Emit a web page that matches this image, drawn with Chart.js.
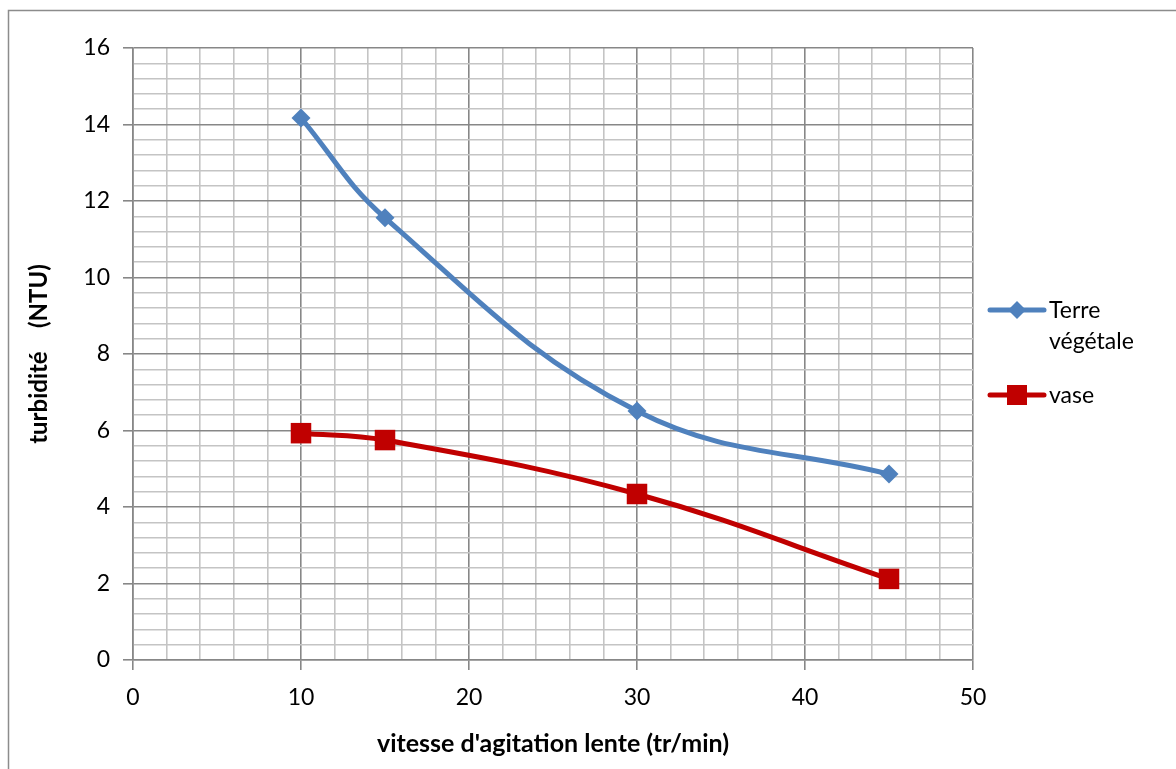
<!DOCTYPE html>
<html>
<head>
<meta charset="utf-8">
<script src="https://cdn.jsdelivr.net/npm/chart.js@4.4.1/dist/chart.umd.min.js"></script>
<style>
  html, body { margin: 0; padding: 0; background: #fff; }
  #wrap { position: relative; width: 1176px; height: 769px; }
</style>
</head>
<body>
<div id="wrap"><canvas id="turbChart"></canvas></div>
<script>
// Vitesse d'agitation lente (tr/min)
const vitesses = [10, 15, 30, 45];
// Turbidité (NTU)
const terreVegetale = [14.17, 11.56, 6.51, 4.86];
const vase = [5.93, 5.75, 4.34, 2.12];
const seriesNames = ['Terre végétale', 'vase'];

const FONT = "Lato, 'Open Sans', sans-serif";
const MAJOR = '#878787';
const MINOR = '#c4c4c4';

const isMult = (v, m) => Math.abs(v / m - Math.round(v / m)) < 1e-6;

// outer frame of the chart object
const framePlugin = {
    id: 'frame',
    beforeDraw(chart) {
        const ctx = chart.ctx;
        ctx.save();
        ctx.fillStyle = '#fff';
        ctx.fillRect(0, 0, chart.width, chart.height);
        ctx.strokeStyle = '#8c8c8c';
        ctx.lineWidth = 1.5;
        ctx.strokeRect(8.5, 10.5, chart.width, chart.height);
        ctx.restore();
    }
};

// legend on the right, with wrapped labels
const legendPlugin = {
    id: 'sideLegend',
    afterDraw(chart) {
        const ctx = chart.ctx;
        const rows = [
            { y: 310, lines: ['Terre', 'végétale'] },
            { y: 395, lines: ['vase'] }
        ];
        ctx.save();
        chart.data.datasets.forEach((ds, i) => {
            const r = rows[i];
            ctx.strokeStyle = ds.borderColor;
            ctx.lineWidth = ds.borderWidth;
            ctx.lineCap = 'round';
            ctx.beginPath();
            ctx.moveTo(990, r.y);
            ctx.lineTo(1044, r.y);
            ctx.stroke();
            ctx.fillStyle = ds.pointBackgroundColor;
            ctx.beginPath();
            if (ds.pointStyle === 'rectRot') {
                ctx.moveTo(1017, r.y - 9);
                ctx.lineTo(1026, r.y);
                ctx.lineTo(1017, r.y + 9);
                ctx.lineTo(1008, r.y);
                ctx.closePath();
            } else {
                ctx.rect(1007, r.y - 10, 20, 20);
            }
            ctx.fill();
            ctx.fillStyle = '#000';
            ctx.font = '23px ' + FONT;
            ctx.textBaseline = 'middle';
            ctx.textAlign = 'left';
            r.lines.forEach((t, k) => ctx.fillText(t, 1049, r.y + 1 + k * 31));
        });
        ctx.restore();
    }
};

new Chart(document.getElementById('turbChart'), {
    type: 'line',
    data: {
        datasets: [
            {
                label: seriesNames[0],
                data: vitesses.map((x, i) => ({ x, y: terreVegetale[i] })),
                borderColor: '#4f81bd',
                pointBackgroundColor: '#4f81bd',
                pointBorderColor: '#4f81bd',
                borderWidth: 5,
                pointStyle: 'rectRot',
                pointRadius: 9.5,
                pointBorderWidth: 0,
                tension: 0.4
            },
            {
                label: seriesNames[1],
                data: vitesses.map((x, i) => ({ x, y: vase[i] })),
                borderColor: '#c00000',
                pointBackgroundColor: '#c00000',
                pointBorderColor: '#c00000',
                borderWidth: 5,
                pointStyle: 'rect',
                pointRadius: 14.5,
                pointBorderWidth: 0,
                tension: 0.4
            }
        ]
    },
    options: {
        responsive: true,
        maintainAspectRatio: false,
        animation: false,
        layout: { padding: { left: 25, top: 48, right: 203, bottom: 10 } },
        plugins: {
            legend: { display: false },
            tooltip: { enabled: false }
        },
        scales: {
            x: {
                type: 'linear',
                min: 0,
                max: 50,
                afterFit: (s) => { s.height = 99; },
                border: { color: MAJOR, width: 1.6 },
                grid: {
                    color: (c) => isMult(c.tick.value, 10) ? MAJOR : MINOR,
                    lineWidth: 1.6,
                    tickLength: 10,
                    tickColor: (c) => isMult(c.tick.value, 10) ? MAJOR : 'rgba(0,0,0,0)'
                },
                ticks: {
                    stepSize: 2,
                    autoSkip: false,
                    maxRotation: 0,
                    color: '#000',
                    padding: 14,
                    font: { family: FONT, size: 23 },
                    callback: (v) => isMult(v, 10) ? String(Math.round(v)) : ''
                },
                title: {
                    display: true,
                    text: "vitesse d'agitation lente (tr/min)",
                    color: '#000',
                    font: { family: FONT, size: 25, weight: 'bold' },
                    padding: { top: 0, bottom: 0 }
                }
            },
            y: {
                min: 0,
                max: 16,
                afterFit: (s) => { s.width = 108; },
                border: { color: MAJOR, width: 1.6 },
                grid: {
                    color: (c) => isMult(c.tick.value, 2) ? MAJOR : MINOR,
                    lineWidth: 1.6,
                    tickLength: 10,
                    tickColor: (c) => isMult(c.tick.value, 2) ? MAJOR : 'rgba(0,0,0,0)'
                },
                ticks: {
                    stepSize: 0.4,
                    autoSkip: false,
                    color: '#000',
                    padding: 13,
                    font: { family: FONT, size: 23 },
                    callback: (v) => isMult(v, 2) ? String(Math.round(v)) : ''
                },
                title: {
                    display: true,
                    text: 'turbidité    (NTU)',
                    color: '#000',
                    font: { family: FONT, size: 24, weight: 'bold' },
                    padding: { top: 0, bottom: 0 }
                }
            }
        }
    },
    plugins: [framePlugin, legendPlugin]
});
</script>
</body>
</html>
